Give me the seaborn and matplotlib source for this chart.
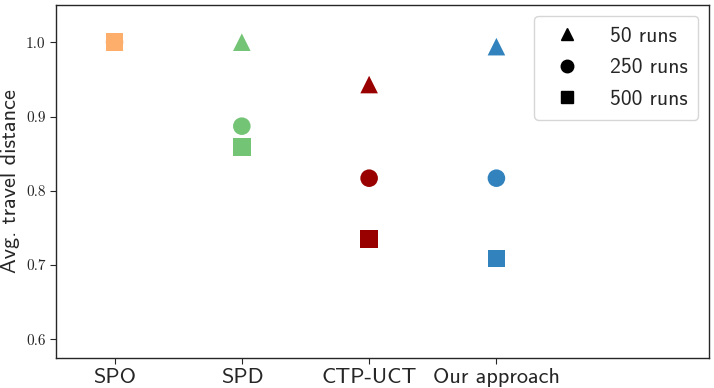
import matplotlib
matplotlib.use("Agg")
import matplotlib.pyplot as plt
from matplotlib.lines import Line2D
import seaborn as sns
import pandas as pd

methods = ["SPO", "SPD", "CTP-UCT", "Our approach"]
runs = ["50 runs", "250 runs", "500 runs"]
# avg. travel distance per method, order: 50, 250, 500 runs
spo_vals = [1.0, 1.0, 1.0]
spd_vals = [1.0, 0.887, 0.859]
ctp_vals = [0.943, 0.817, 0.735]
ours_vals = [0.994, 0.817, 0.709]

colors = ["#fdae6b", "#74c476", "#990000", "#3182bd"]
markers = {"50 runs": "^", "250 runs": "o", "500 runs": "s"}

rows = []
for m, vals in zip(methods, [spo_vals, spd_vals, ctp_vals, ours_vals]):
    for r, v in zip(runs, vals):
        rows.append({"method": m, "runs": r, "dist": v})
df = pd.DataFrame(rows)

sns.set_style("ticks")
plt.rcParams["font.family"] = ["cmss10", "DejaVu Sans"]
plt.rcParams["axes.formatter.use_mathtext"] = True

fig = plt.figure(figsize=(7.14, 3.88), dpi=100)
ax = fig.add_axes([0.0784, 0.0773, 0.9146, 0.9097])

sns.scatterplot(data=df, x="method", y="dist", hue="method", palette=colors,
                style="runs", markers=markers, s=160, linewidth=0,
                legend=False, ax=ax)

ax.set_xlim(-0.46, 4.67)
ax.set_ylim(0.575, 1.05)
ax.set_yticks([0.6, 0.7, 0.8, 0.9, 1.0])
ax.set_yticklabels(["0.6", "0.7", "0.8", "0.9", "1.0"], family="cmr10", fontsize=11)
ax.tick_params(axis="x", labelsize=16, length=4)
ax.tick_params(axis="y", length=4)
ax.set_xlabel("")
ax.set_ylabel("Avg. travel distance", fontsize=16)
for sp in ax.spines.values():
    sp.set_linewidth(1.0)

# legend only shows the marker shapes, in black
handles = [Line2D([], [], marker=markers[r], color="black", linestyle="",
                  markersize=9) for r in runs]
ax.legend(handles, runs, loc="upper right", fontsize=15.5, handletextpad=1.0,
          borderpad=0.5, labelspacing=0.58)

fig.savefig("out.png", dpi=100)
